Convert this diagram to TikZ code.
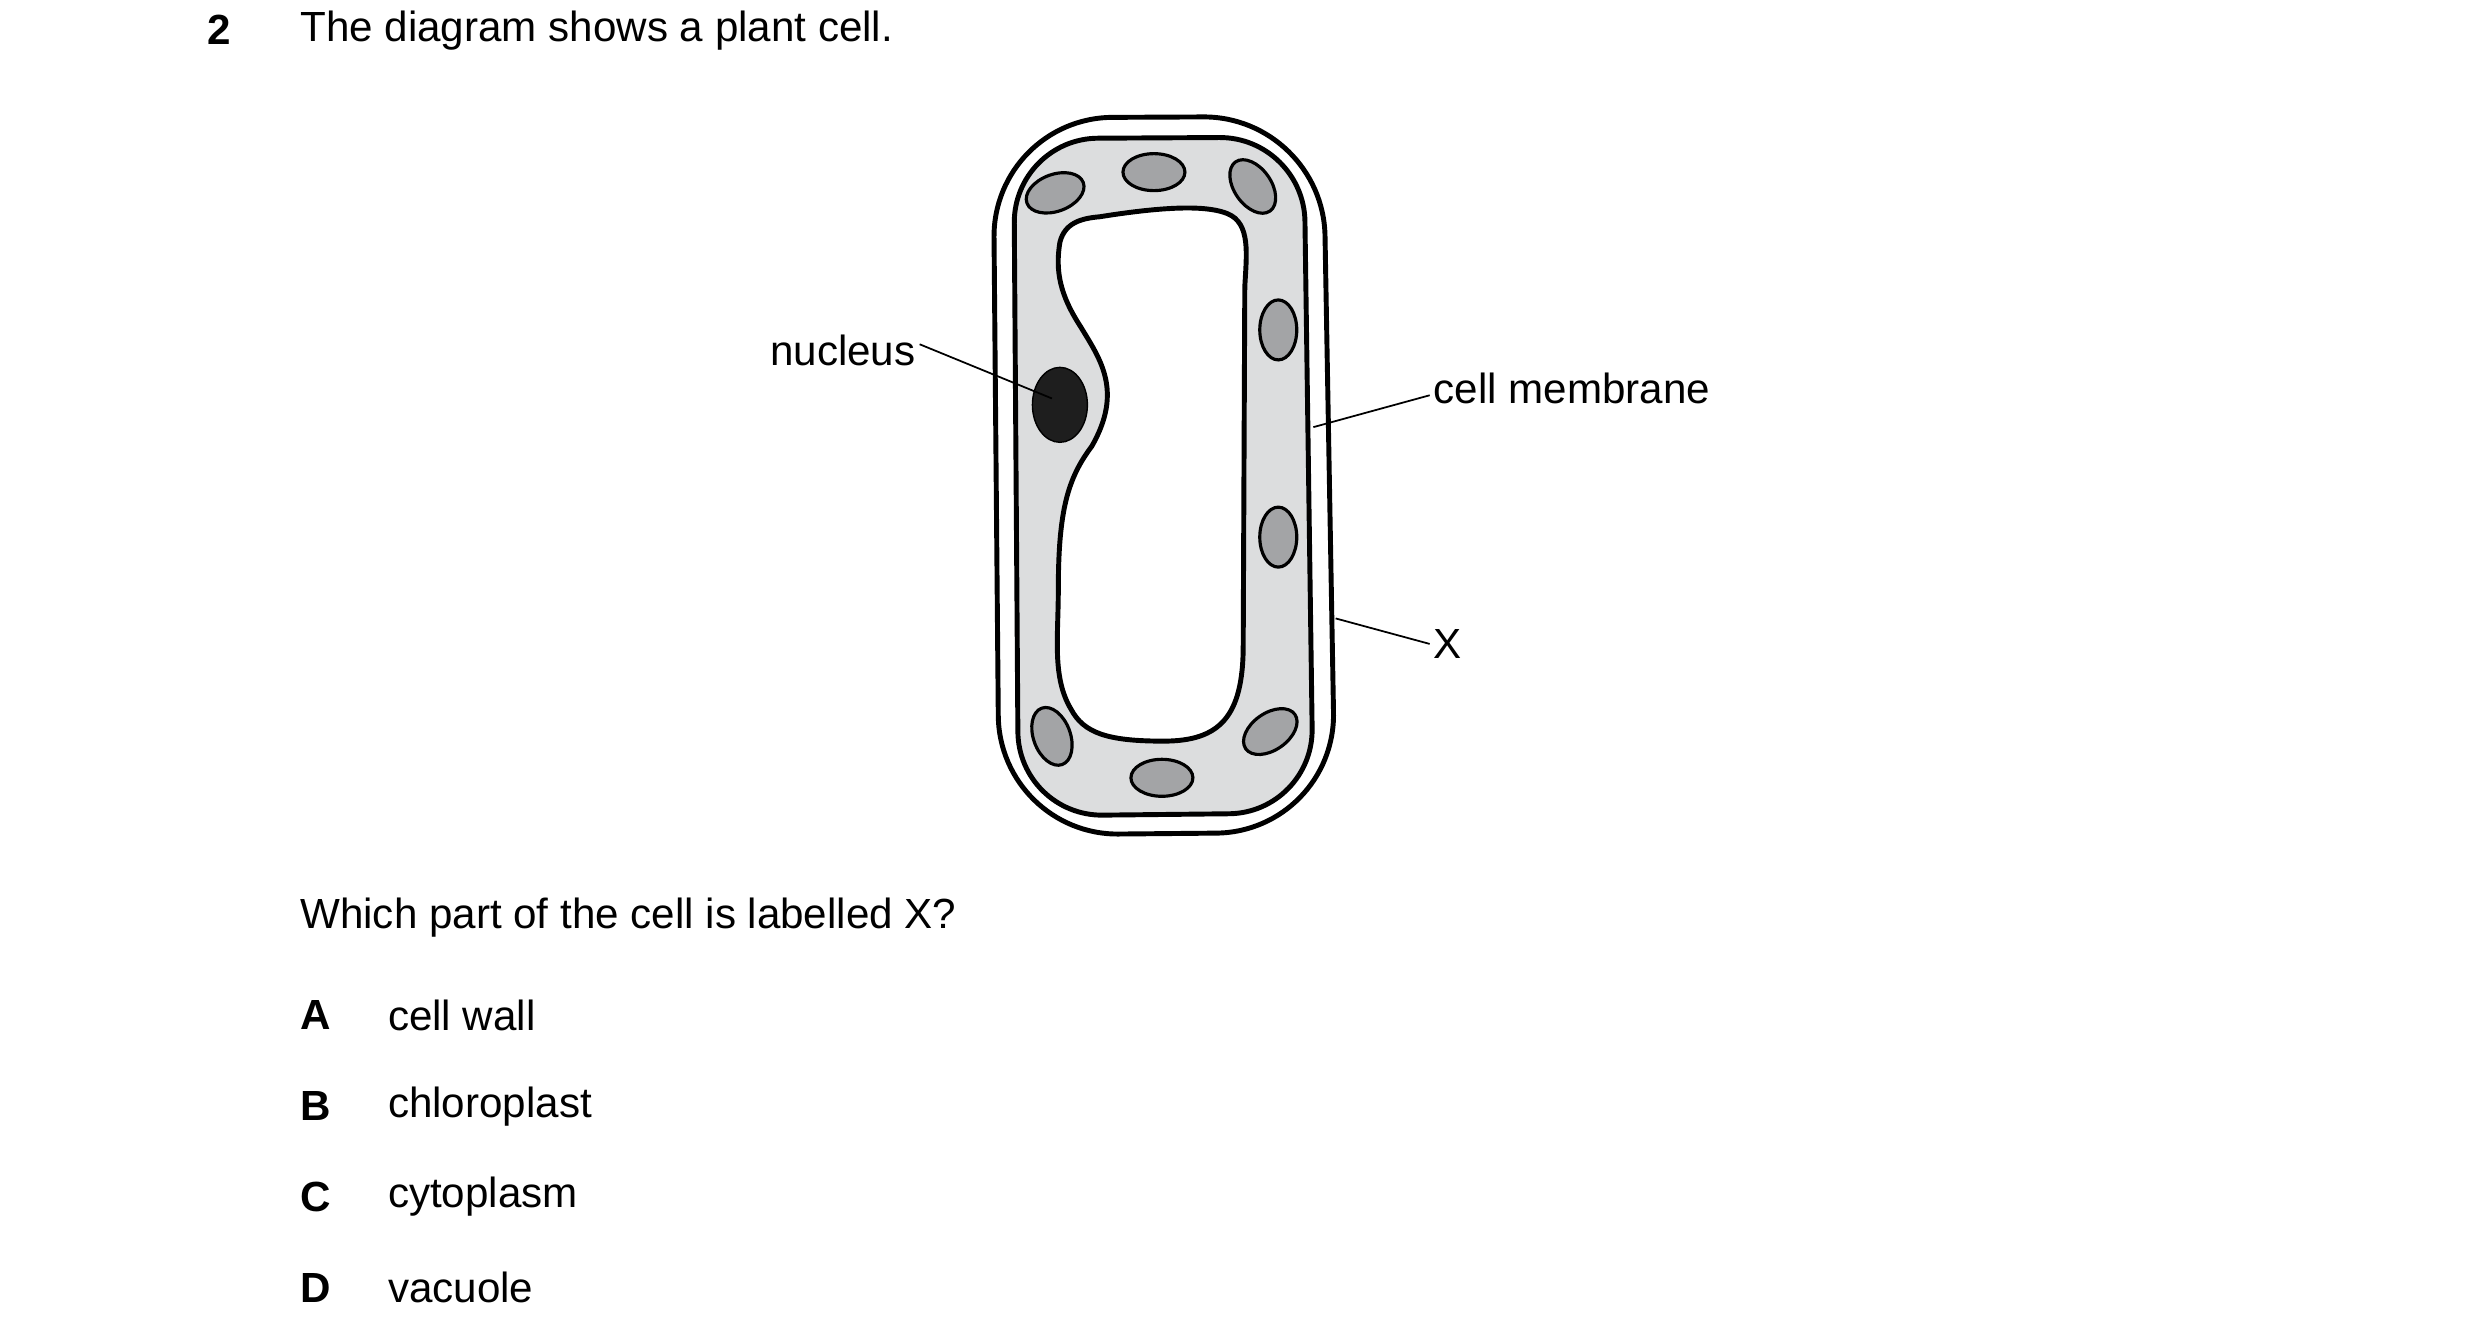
\documentclass[tikz,border=0pt]{standalone}
\usepackage{fontspec}
\setmainfont{Liberation Sans}
\usetikzlibrary{positioning}
\definecolor{cytoplasm}{HTML}{DCDDDE}
\definecolor{chloro}{HTML}{A3A4A6}
\definecolor{dark}{HTML}{1E1E1E}
\tikzset{
    % text styles
    question/.style={anchor=west, inner sep=0pt, font=\fontsize{12}{14}\selectfont},
    letter/.style={question, font=\fontsize{12}{14}\selectfont\bfseries},
    label text/.style={inner sep=1pt, font=\fontsize{12}{14}\selectfont},
    % cell parts
    wall/.style={draw=black, line width=1.4pt},
    chloroplast/.style={ellipse, draw=black, fill=chloro, line width=0.9pt,
        minimum width=#1, minimum height=0.37cm, inner sep=0pt},
    pointer/.style={line width=0.5pt}
}
\usetikzlibrary{shapes.geometric}
\begin{document}
\begin{tikzpicture}[x=0.01594cm, y=-0.01594cm]
        \useasboundingbox (0,0) rectangle (1556,838);

        % question text
        \node[letter] (qnum) at (130,19) {2};
        \node[question] (qtext) at (188,19) {The diagram shows a plant cell.};

        % cell wall and cytoplasm
        \draw[wall, rounded corners=34] (623,74) -- (830,73) -- (838,522) -- (627,524) -- cycle;
        \draw[wall, fill=cytoplasm, rounded corners=24] (636,87) -- (818,86) -- (824,510) -- (639,512) -- cycle;

        % vacuole
        \draw[wall, fill=white] (690,136) .. controls (740,128) and (760,130) .. (770,134)
            .. controls (785,140) and (782,160) .. (781,180) -- (780,405)
            .. controls (780,450) and (765,465) .. (730,465)
            .. controls (695,465) and (680,460) .. (672,445)
            .. controls (660,425) and (664,400) .. (664,370)
            .. controls (664,320) and (670,300) .. (685,280)
            .. controls (705,245) and (690,225) .. (678,205)
            .. controls (665,185) and (662,170) .. (665,152)
            .. controls (668,140) and (678,137) .. (690,136);

        % nucleus
        \node[ellipse, fill=dark, draw=black, minimum width=0.55cm, minimum height=0.75cm, inner sep=0pt] (nucleus) at (665,254) {};

        % chloroplasts
        \node[chloroplast=0.6cm, rotate=20] (c1) at (662,121) {};
        \node[chloroplast=0.62cm] (c2) at (724,108) {};
        \node[chloroplast=0.6cm, rotate=-55] (c3) at (786,117) {};
        \node[chloroplast=0.6cm, rotate=90] (c4) at (802,207) {};
        \node[chloroplast=0.6cm, rotate=90] (c5) at (802,337) {};
        \node[chloroplast=0.6cm, rotate=-70] (c6) at (660,462) {};
        \node[chloroplast=0.6cm, rotate=35] (c7) at (797,459) {};
        \node[chloroplast=0.62cm] (c8) at (729,488) {};

        % labels
        \node[label text, anchor=east] (lnucleus) at (577,220) {nucleus};
        \coordinate (pnucleus) at (660,250);
        \draw[pointer] (lnucleus.east) ++(0,-4) -- (pnucleus);
        \node[label text, anchor=west] (lmembrane) at (897,244) {cell membrane};
        \coordinate (pmembrane) at (824,268);
        \draw[pointer] (lmembrane.west) ++(0,4) -- (pmembrane);
        \node[label text, anchor=west] (lx) at (897,404) {X};
        \coordinate (px) at (838,388);
        \draw[pointer] (lx.west) -- (px);

        % answers
        \node[question] (ask) at (188,576) {Which part of the cell is labelled X?};
        \foreach \l/\t [count=\i from 0] in {A/cell wall, B/chloroplast, C/cytoplasm, D/vacuole} {
            \node[letter] (opt\l) at (188,{637+57*\i}) {\l};
            \node[question] (ans\l) at (243,{637+57*\i}) {\t};
        }

    \end{tikzpicture}
\end{document}
